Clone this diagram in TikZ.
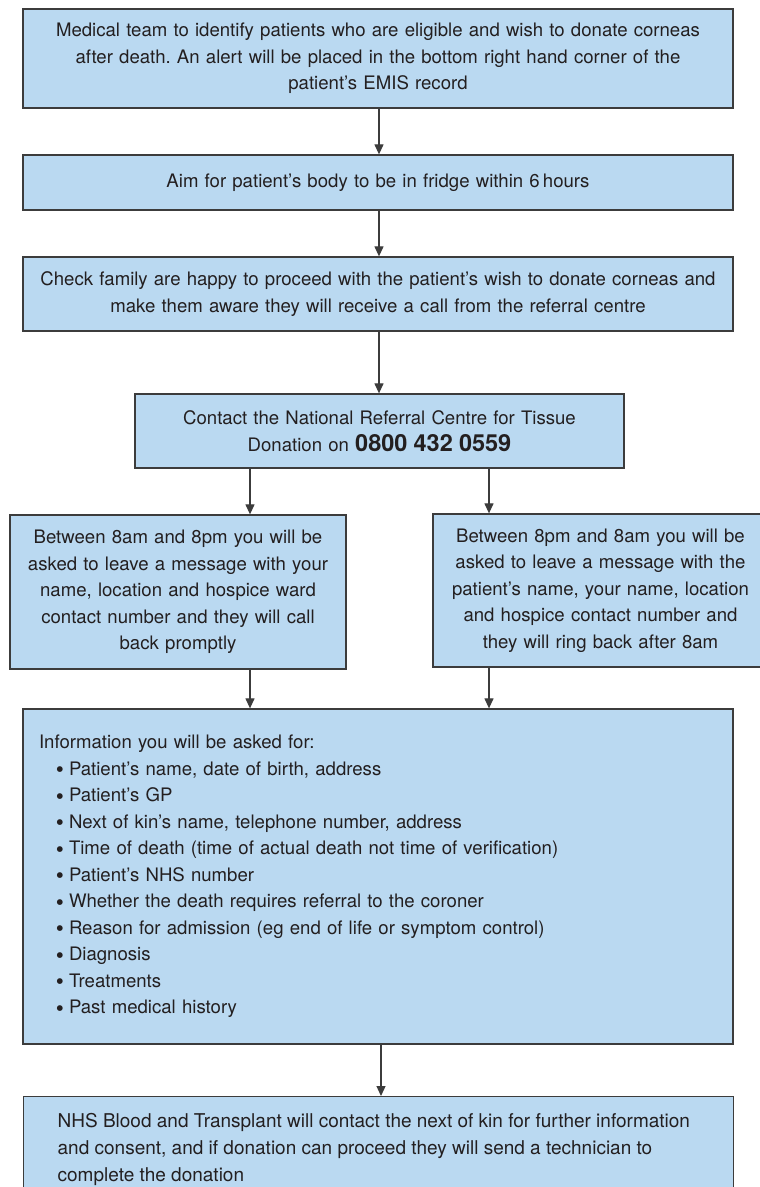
\documentclass[tikz,border=0pt]{standalone}
\usepackage{fontspec}
\setmainfont{TeX Gyre Heros}
\usetikzlibrary{arrows.meta}
\definecolor{boxfill}{HTML}{BAD9F1}
\definecolor{boxline}{HTML}{3C3C3C}
\definecolor{txt}{HTML}{231F20}
\newcommand{\bul}{\hspace*{17pt}\makebox[13pt][l]{\raisebox{-2.6pt}{\fontsize{23}{0}\selectfont\textbullet}}}
\frenchspacing
\begin{document}
\begin{tikzpicture}[x=1pt,y=-1pt,
  box/.style={draw=boxline, fill=boxfill, line width=1.3pt, text=txt,
    font=\fontsize{18.6}{26.5}\selectfont, align=center, inner sep=0pt},
  arr/.style={draw=boxline, line width=1.2pt, -{Triangle[length=10pt,width=9pt]}}]
\useasboundingbox (0,0) rectangle (760,1187);
\clip (0,0) rectangle (760,1187);
\fill[white] (0,0) rectangle (760,1187);

\node[box, minimum width=710, minimum height=99, text width=700] (b1) at (378,58.5)
  {Medical team to identify patients who are eligible and wish to donate corneas\\
   after death. An alert will be placed in the bottom right hand corner of the\\
   patient’s EMIS record};
\node[box, minimum width=710, minimum height=55, text width=700] (b2) at (378,182.5)
  {Aim for patient’s body to be in fridge within 6\,hours};
\node[box, minimum width=710, minimum height=74, text width=700] (b3) at (378,294)
  {Check family are happy to proceed with the patient’s wish to donate corneas and\\
   make them aware they will receive a call from the referral centre};
\node[box, minimum width=489, minimum height=74, text width=480] (b4) at (379.5,431)
  {Contact the National Referral Centre for Tissue\\
   Donation on {\fontsize{23.5}{26.5}\selectfont\bfseries 0800 432 0559}};
\node[box, minimum width=336, minimum height=154, text width=330] (b5l) at (178,592)
  {Between 8am and 8pm you will be\\
   asked to leave a message with your\\
   name, location and hospice ward\\
   contact number and they will call\\
   back promptly};
\node[box, minimum width=335, minimum height=153, text width=330] (b5r) at (600.5,590.5)
  {Between 8pm and 8am you will be\\
   asked to leave a message with the\\
   patient’s name, your name, location\\
   and hospice contact number and\\
   they will ring back after 8am};
\node[box, minimum width=710, minimum height=335, text width=678, align=left] (b6) at (378,876.5)
  {Information you will be asked for:\\
   \bul Patient’s name, date of birth, address\\
   \bul Patient’s GP\\
   \bul Next of kin’s name, telephone number, address\\
   \bul Time of death (time of actual death not time of verification)\\
   \bul Patient’s NHS number\\
   \bul Whether the death requires referral to the coroner\\
   \bul Reason for admission (eg end of life or symptom control)\\
   \bul Diagnosis\\
   \bul Treatments\\
   \bul Past medical history};
\node[box, anchor=north west, inner xsep=34pt, inner ysep=17pt] (b7) at (23,1096)
  {\parbox[c][110pt][t]{642pt}{\raggedright\fontsize{19}{26.7}\selectfont
   NHS Blood and Transplant will contact the next of kin for further information\\
   and consent, and if donation can proceed they will send a technician to\\
   complete the donation}};

\coordinate (xm) at (379,0);
\coordinate (xl) at (250,0);
\coordinate (xr) at (489,0);
\coordinate (xb) at (381,0);
\draw[arr] (b1.south -| xm) -- (b2.north -| xm);
\draw[arr] (b2.south -| xm) -- (b3.north -| xm);
\draw[arr] (b3.south -| xm) -- (b4.north -| xm);
\draw[arr] (b4.south -| xl) -- (b5l.north -| xl);
\draw[arr] (b4.south -| xr) -- (b5r.north -| xr);
\draw[arr] (b5l.south -| xl) -- (b6.north -| xl);
\draw[arr] (b5r.south -| xr) -- (b6.north -| xr);
\draw[arr] (b6.south -| xb) -- (b7.north -| xb);
\end{tikzpicture}
\end{document}
